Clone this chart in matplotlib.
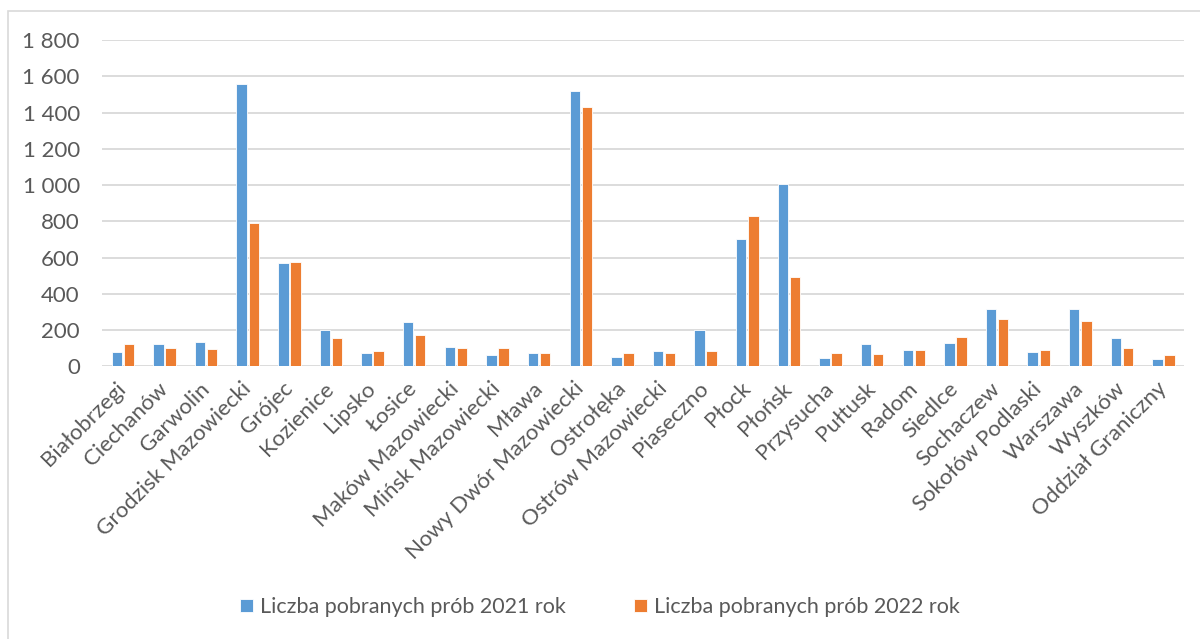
import numpy as np
import matplotlib
matplotlib.use("Agg")
from matplotlib import pyplot as plt
from matplotlib.ticker import FuncFormatter
from matplotlib.patches import Rectangle

# data
powiaty = ["Białobrzegi", "Ciechanów", "Garwolin", "Grodzisk Mazowiecki", "Grójec",
           "Kozienice", "Lipsko", "Łosice", "Maków Mazowiecki", "Mińsk Mazowiecki",
           "Mława", "Nowy Dwór Mazowiecki", "Ostrołęka", "Ostrów Mazowiecki",
           "Piaseczno", "Płock", "Płońsk", "Przysucha", "Pułtusk", "Radom",
           "Siedlce", "Sochaczew", "Sokołów Podlaski", "Warszawa", "Wyszków",
           "Oddział Graniczny"]
proby_2021 = [77, 124, 131, 1561, 568, 197, 74, 243, 107, 64, 72, 1519, 52, 81,
              199, 700, 1004, 46, 120, 87, 127, 313, 79, 317, 157, 42]
proby_2022 = [124, 101, 96, 789, 577, 158, 81, 170, 100, 101, 72, 1434, 72, 72,
              81, 828, 490, 72, 68, 87, 160, 258, 87, 247, 100, 59]

series_labels = ["Liczba pobranych prób 2021 rok", "Liczba pobranych prób 2022 rok"]
blue = "#5b9bd5"
orange = "#ed7d31"
text_col = "#595959"

plt.rcParams['font.family'] = ['Lato', 'DejaVu Sans']

fig = plt.figure(figsize=(12, 6.39), dpi=100)
ax = fig.add_axes([0.085, 0.427, 0.902, 0.51])

x = np.arange(len(powiaty))
w = 0.25
ax.bar(x - w / 2 - 0.02, proby_2021, w, color=blue, edgecolor="white", linewidth=0.6,
       label=series_labels[0], zorder=3)
ax.bar(x + w / 2 + 0.02, proby_2022, w, color=orange, edgecolor="white", linewidth=0.6,
       label=series_labels[1], zorder=3)

ax.set_xlim(-0.5, len(powiaty) - 0.5)
ax.set_ylim(0, 1800)
ax.set_yticks(np.arange(0, 1801, 200))
ax.yaxis.set_major_formatter(FuncFormatter(lambda v, p: f"{int(v):,}".replace(",", " ")))
ax.grid(axis="y", color="#d9d9d9", linewidth=1.3, zorder=0)
ax.set_axisbelow(True)
for s in ax.spines.values():
    s.set_visible(False)

ax.set_xticks(x)
ax.set_xticklabels(powiaty, rotation=45, ha="right", va="center", rotation_mode="anchor")
ax.tick_params(axis="x", length=0, pad=14, labelsize=16, labelcolor=text_col)
ax.tick_params(axis="y", length=0, pad=16, labelsize=16, labelcolor=text_col)

fig.legend(loc="center", bbox_to_anchor=(0.5, 0.05), ncol=2, frameon=False,
           fontsize=15.5, labelcolor=text_col, handlelength=0.6, handleheight=0.6,
           handletextpad=0.3, columnspacing=3.2)

# light frame round the chart
fig.patches.append(Rectangle((8 / 1200, -0.1), 1.2, 1 - 11 / 639 + 0.1,
                             transform=fig.transFigure, fill=False,
                             edgecolor="#d9d9d9", linewidth=1.2))

plt.savefig("out.png", dpi=100)
